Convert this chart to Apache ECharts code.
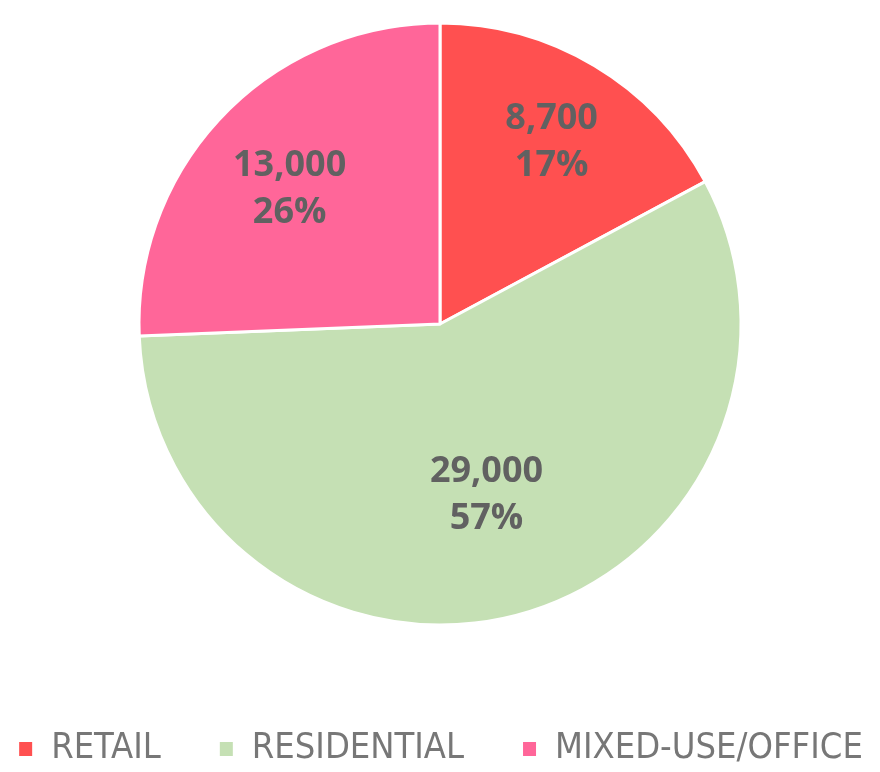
<!DOCTYPE html>
<html>
<head>
<meta charset="UTF-8">
<script src="https://cdn.jsdelivr.net/npm/echarts@6/dist/echarts.min.js"></script>
<style>
html, body { margin: 0; padding: 0; background: #fff; }
#main { width: 880px; height: 772px; }
</style>
</head>
<body>
<div id="main"></div>
<script>
// data
var categories = ['RETAIL', 'RESIDENTIAL', 'MIXED-USE/OFFICE'];
var values = [8700, 29000, 13000];
var colors = ['#FF5050', '#C5E0B4', '#FF6699'];
// inner radius per label ring so the label sits where the reference has it
var labelInner = [128, 46, 110];
// empty top line height, pushes a label down by half of it
var labelGap = [10, 2, 20];

var chart = echarts.init(document.getElementById('main'));

var total = values.reduce(function (a, b) { return a + b; }, 0);

var pieData = categories.map(function (c, i) {
    return { name: c, value: values[i], itemStyle: { color: colors[i] } };
});

var series = [{
    name: 'main',
    type: 'pie',
    center: [440, 324],
    radius: [0, 301],
    startAngle: 90,
    clockwise: true,
    silent: true,
    itemStyle: { borderColor: '#fff', borderWidth: 3 },
    label: { show: false },
    labelLine: { show: false },
    data: pieData
}];

// one transparent ring per label
categories.forEach(function (c, k) {
    series.push({
        type: 'pie',
        center: [440, 324],
        radius: [labelInner[k], 301],
        startAngle: 90,
        clockwise: true,
        silent: true,
        legendHoverLink: false,
        itemStyle: { color: 'rgba(0,0,0,0)' },
        labelLine: { show: false },
        label: {
            position: 'inside',
            fontFamily: 'Open Sans',
            fontWeight: 'bold',
            fontSize: 36,
            lineHeight: 47,
            color: '#616161',
            rich: {
                g: { fontSize: 1, lineHeight: labelGap[k] },
                v: { fontFamily: 'Open Sans', fontWeight: 'bold', fontSize: 36, lineHeight: 47, color: '#616161' }
            },
            formatter: function (p) {
                return '{g| }\n{v|' + echarts.format.addCommas(p.value) + '}\n{v|' + Math.round(p.value / total * 100) + '%}';
            }
        },
        data: categories.map(function (n, i) {
            return { name: n, value: values[i], label: { show: i === k } };
        })
    });
});

var option = {
    animation: false,
    legend: {
        bottom: 0,
        left: 'center',
        width: 870,
        icon: 'rect',
        itemWidth: 15,
        itemHeight: 16,
        itemGap: 57,
        textStyle: {
            fontFamily: 'DejaVu Sans Condensed',
            fontSize: 36,
            color: '#777777',
            padding: [0, 0, 0, 13]
        },
        data: categories.map(function (c, i) {
            return { name: c, itemStyle: { color: colors[i] } };
        })
    },
    series: series
};

chart.setOption(option);
</script>
</body>
</html>
